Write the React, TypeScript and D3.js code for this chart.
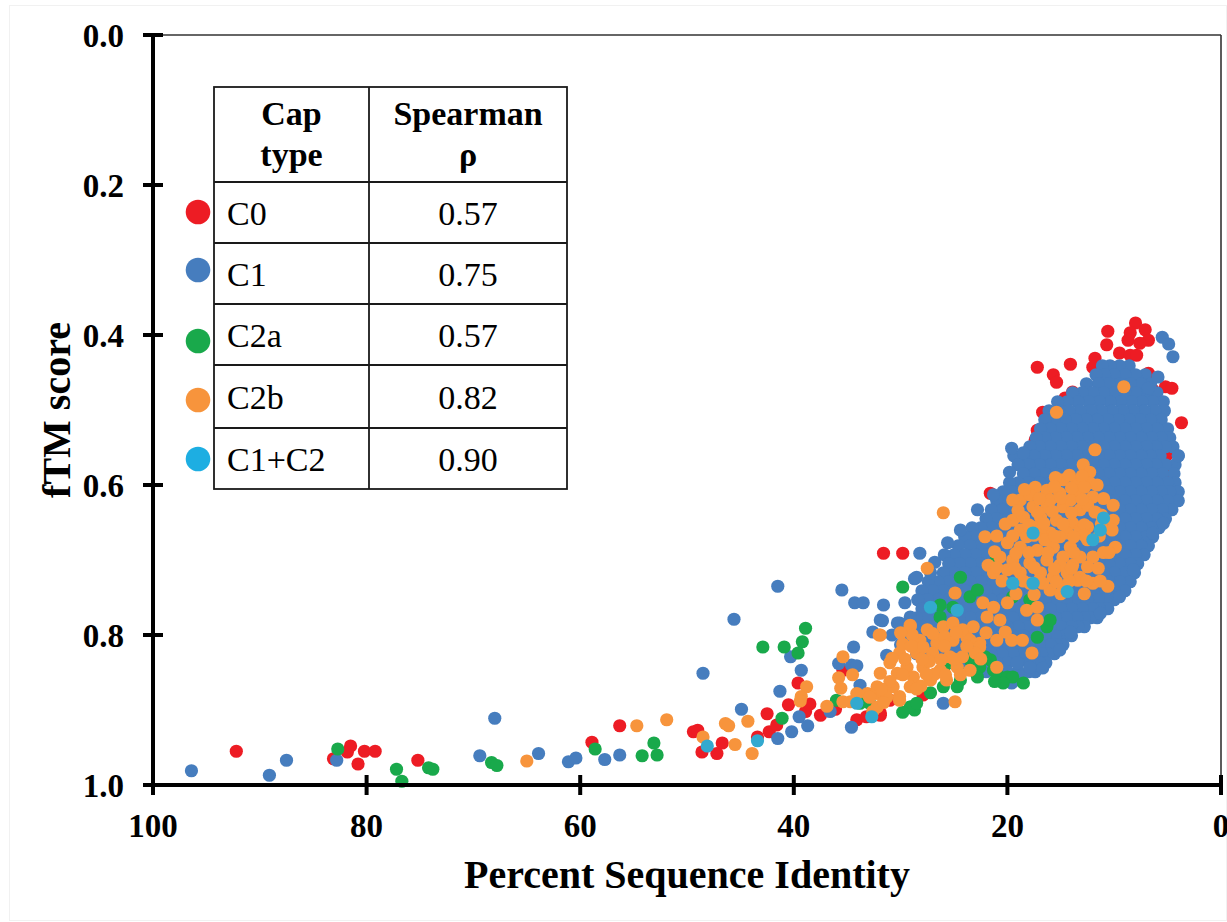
import React from "react";
import * as d3 from "d3";

// Axis ticks and the summary table
const xTicks = [100, 80, 60, 40, 20, 0];
const yTicks = [0, 0.2, 0.4, 0.6, 0.8, 1.0];
const capTypes = ["C0", "C1", "C2a", "C2b", "C1+C2"];
const spearmanRho = ["0.57", "0.75", "0.57", "0.82", "0.90"];

// Each point: [percent sequence identity, fTM score]
type Pt = [number, number];

const c0Points: Pt[] = [
  [92.2, 0.955], [83.1, 0.965], [81.8, 0.956], [81.5, 0.948], [80.8, 0.972], [80.2, 0.955], [79.2, 0.955], [75.2, 0.967],
  [58.9, 0.943], [56.3, 0.921], [49.4, 0.929], [49.0, 0.927], [48.6, 0.956], [47.2, 0.958], [46.7, 0.944], [43.4, 0.936],
  [42.5, 0.905], [42.3, 0.929], [41.6, 0.92], [40.5, 0.893], [38.9, 0.902], [39.6, 0.864], [38.5, 0.892], [37.5, 0.907],
  [36.1, 0.899], [35.4, 0.847], [34.1, 0.913], [33.2, 0.909], [31.9, 0.907], [31.0, 0.887], [31.9, 0.904], [27.9, 0.88],
  [31.6, 0.691], [29.8, 0.691], [23.3, 0.703], [9.5, 0.717], [21.6, 0.611],
  [8.0, 0.384], [10.6, 0.395], [7.1, 0.393], [8.5, 0.397], [6.8, 0.407], [8.7, 0.407], [10.7, 0.413], [7.6, 0.411],
  [9.5, 0.424], [8.5, 0.427], [7.9, 0.427], [11.8, 0.431], [14.1, 0.439], [17.2, 0.443], [12.0, 0.443], [15.7, 0.453],
  [15.4, 0.463], [10.1, 0.443], [6.8, 0.451], [5.2, 0.469], [4.6, 0.471], [6.4, 0.473], [7.6, 0.476], [14.6, 0.484],
  [13.9, 0.476], [16.7, 0.503], [17.2, 0.527], [17.4, 0.54], [3.7, 0.517], [5.1, 0.56], [5.4, 0.584], [5.2, 0.603],
  [6.4, 0.616],
];

const c1Points: Pt[] = [
  [96.4, 0.981], [89.1, 0.987], [87.5, 0.967], [82.8, 0.967], [69.4, 0.961], [68.0, 0.911], [63.9, 0.958], [61.1, 0.969],
  [60.4, 0.964], [57.7, 0.966], [56.3, 0.96], [44.9, 0.899], [41.5, 0.938], [40.2, 0.929], [39.5, 0.909], [38.7, 0.921],
  [41.5, 0.735], [45.6, 0.779], [48.5, 0.851], [35.5, 0.74], [28.7, 0.725], [34.3, 0.757], [33.5, 0.757], [31.6, 0.76],
  [40.3, 0.829], [31.7, 0.781], [32.6, 0.796], [34.4, 0.816], [39.3, 0.847], [41.3, 0.875], [36.6, 0.902], [35.8, 0.838],
  [34.6, 0.84], [34.1, 0.841], [33.8, 0.867], [34.6, 0.923], [31.3, 0.827], [30.3, 0.784], [29.4, 0.803],
  [5.5, 0.403], [4.9, 0.412], [4.5, 0.429], [5.9, 0.456], [6.8, 0.471], [19.6, 0.551], [18.5, 0.557], [19.8, 0.583],
  [21.3, 0.613], [26.0, 0.891], [19.6, 0.864], [19.1, 0.837], [17.9, 0.843], [16.7, 0.844], [4.0, 0.561], [9.5, 0.749],
  [8.2, 0.713], [6.4, 0.664], [5.4, 0.651], [11.3, 0.771], [14.1, 0.796], [15.1, 0.82],
  [31.9, 0.78], [29.1, 0.776], [30.1, 0.784], [28.2, 0.691], [28.5, 0.723], [27.2, 0.717], [26.8, 0.703], [25.6, 0.677],
  [24.4, 0.66], [22.8, 0.633], [29.6, 0.757], [30.8, 0.8],
];

// Dense C1 cloud, listed by fTM level: [fTM, identities at that level]
const c1Cloud: [number, number[]][] = [
  [0.441, [8.6, 9.5, 10.4, 11.1]],
  [0.453, [7.1, 8.0, 9.0, 10.0, 10.9, 11.7]],
  [0.465, [6.6, 7.5, 8.5, 9.5, 10.5, 11.5, 12.6]],
  [0.477, [6.0, 7.0, 8.0, 9.0, 10.0, 11.0, 12.0, 13.0, 13.9]],
  [0.489, [5.4, 6.4, 7.4, 8.4, 9.4, 10.4, 11.4, 12.4, 13.4, 14.4, 15.3]],
  [0.501, [5.3, 6.2, 7.2, 8.2, 9.2, 10.2, 11.2, 12.2, 13.2, 14.2, 15.2, 16.1]],
  [0.513, [5.6, 6.6, 7.6, 8.6, 9.6, 10.6, 11.6, 12.6, 13.6, 14.6, 15.6, 16.5]],
  [0.525, [5.0, 6.0, 7.0, 8.0, 9.0, 10.0, 11.0, 12.0, 13.0, 14.0, 15.0, 16.0, 16.9]],
  [0.537, [4.8, 5.6, 6.5, 7.5, 8.5, 9.5, 10.5, 11.5, 12.5, 13.5, 14.5, 15.5, 16.5, 17.3]],
  [0.549, [4.5, 5.2, 6.1, 7.0, 8.0, 9.0, 10.0, 11.0, 12.0, 13.0, 14.0, 15.0, 16.0, 17.0, 17.9]],
  [0.561, [4.0, 5.7, 6.6, 7.5, 8.5, 9.5, 10.5, 11.5, 12.5, 13.5, 14.5, 15.5, 16.5, 17.5, 18.5, 19.4]],
  [0.573, [4.3, 5.2, 6.1, 7.0, 8.0, 9.0, 10.0, 11.0, 12.0, 13.0, 14.0, 15.0, 16.0, 17.0, 18.0, 19.0]],
  [0.585, [4.4, 5.5, 6.5, 7.5, 8.5, 9.5, 10.5, 11.5, 12.5, 13.5, 14.5, 15.5, 16.5, 17.5, 18.5]],
  [0.597, [4.3, 5.0, 6.0, 7.0, 8.0, 9.0, 10.0, 11.0, 12.0, 13.0, 14.0, 15.0, 16.0, 17.0, 18.0, 19.0, 19.8]],
  [0.609, [4.0, 4.8, 5.6, 6.5, 7.5, 8.5, 9.5, 10.5, 11.5, 12.5, 13.5, 14.5, 15.5, 16.5, 17.5, 18.5, 19.5, 20.4]],
  [0.621, [4.0, 5.0, 6.0, 7.0, 8.0, 9.0, 10.0, 11.0, 12.0, 13.0, 14.0, 15.0, 16.0, 17.0, 18.0, 19.0, 20.0, 21.0]],
  [0.633, [4.6, 5.5, 6.5, 7.5, 8.5, 9.5, 10.5, 11.5, 12.5, 13.5, 14.5, 15.5, 16.5, 17.5, 18.5, 19.5, 20.5, 21.5]],
  [0.645, [5.2, 6.0, 7.0, 8.0, 9.0, 10.0, 11.0, 12.0, 13.0, 14.0, 15.0, 16.0, 17.0, 18.0, 19.0, 20.0, 21.0, 22.0]],
  [0.657, [5.8, 6.5, 7.5, 8.5, 9.5, 10.5, 11.5, 12.5, 13.5, 14.5, 15.5, 16.5, 17.5, 18.5, 19.5, 20.5, 21.5, 22.5, 23.3]],
  [0.669, [6.4, 7.0, 8.0, 9.0, 10.0, 11.0, 12.0, 13.0, 14.0, 15.0, 16.0, 17.0, 18.0, 19.0, 20.0, 21.0, 22.0, 23.0, 24.0]],
  [0.681, [6.8, 7.5, 8.5, 9.5, 10.5, 11.5, 12.5, 13.5, 14.5, 15.5, 16.5, 17.5, 18.5, 19.5, 20.5, 21.5, 22.5, 23.5, 24.6]],
  [0.693, [7.2, 8.0, 9.0, 10.0, 11.0, 12.0, 13.0, 14.0, 15.0, 16.0, 17.0, 18.0, 19.0, 20.0, 21.0, 22.0, 23.0, 24.0, 25.0, 25.9]],
  [0.705, [7.8, 8.5, 9.5, 10.5, 11.5, 12.5, 13.5, 14.5, 15.5, 16.5, 17.5, 18.5, 19.5, 20.5, 21.5, 22.5, 23.5, 24.5, 25.5]],
  [0.717, [8.1, 9.0, 10.0, 11.0, 12.0, 13.0, 14.0, 15.0, 16.0, 17.0, 18.0, 19.0, 20.0, 21.0, 22.0, 23.0, 24.0, 25.0, 26.0]],
  [0.729, [8.5, 9.5, 10.5, 11.5, 12.5, 13.5, 14.5, 15.5, 16.5, 17.5, 18.5, 19.5, 20.5, 21.5, 22.5, 23.5, 24.5, 25.5, 26.5, 27.4]],
  [0.741, [9.0, 10.0, 11.0, 12.0, 13.0, 14.0, 15.0, 16.0, 17.0, 18.0, 19.0, 20.0, 21.0, 22.0, 23.0, 24.0, 25.0, 26.0, 27.0, 28.0]],
  [0.753, [10.0, 10.8, 11.5, 12.5, 13.5, 14.5, 15.5, 16.5, 17.5, 18.5, 19.5, 20.5, 21.5, 22.5, 23.5, 24.5, 25.5, 26.5, 27.5, 28.4]],
  [0.765, [10.6, 11.4, 12.0, 13.0, 14.0, 15.0, 16.0, 17.0, 18.0, 19.0, 20.0, 21.0, 22.0, 23.0, 24.0, 25.0, 26.0, 27.0, 28.0]],
  [0.777, [11.6, 12.2, 12.8, 13.5, 14.5, 15.5, 16.5, 17.5, 18.5, 19.5, 20.5, 21.5, 22.5, 23.5, 24.5, 25.5, 26.5, 27.5, 28.5]],
  [0.789, [12.8, 13.4, 14.0, 15.0, 16.0, 17.0, 18.0, 19.0, 20.0, 21.0, 22.0, 23.0, 24.0, 25.0, 26.0, 27.0, 28.0, 29.0]],
  [0.801, [14.0, 14.6, 15.5, 16.5, 17.5, 18.5, 19.5, 20.5, 21.5, 22.5, 23.5, 24.5, 25.5, 26.5, 27.5, 28.5, 29.5]],
  [0.813, [14.8, 15.4, 16.0, 17.0, 18.0, 19.0, 20.0, 21.0, 22.0, 23.0, 24.0, 25.0, 26.0, 27.0, 28.0, 29.0, 30.0]],
  [0.825, [15.6, 16.2, 16.8, 17.5, 18.5, 19.5, 20.5, 21.5, 22.5, 23.5, 24.5, 25.5, 26.5, 27.5, 28.5]],
  [0.837, [16.4, 17.0, 18.0, 19.0, 20.0, 21.0, 22.0, 23.0, 24.0, 25.0, 26.0]],
  [0.849, [17.4, 18.0, 19.0, 20.0, 21.0, 22.0, 23.0]],
  [0.861, [18.7, 19.5, 20.5]],
];

const c2aPoints: Pt[] = [
  [82.7, 0.952], [77.2, 0.979], [76.7, 0.995], [74.2, 0.977], [73.8, 0.979], [68.3, 0.97], [67.8, 0.974], [58.6, 0.952],
  [54.2, 0.961], [53.1, 0.944], [52.8, 0.96], [41.1, 0.911], [38.9, 0.791], [42.9, 0.816], [40.9, 0.816], [39.2, 0.809],
  [39.6, 0.824], [29.8, 0.736], [36.0, 0.887], [32.9, 0.891], [29.1, 0.896], [28.7, 0.9], [33.8, 0.891],
  [24.4, 0.723], [23.5, 0.749], [22.8, 0.74], [26.3, 0.76], [25.1, 0.763], [26.3, 0.776], [21.0, 0.696], [19.5, 0.749],
  [17.9, 0.753], [16.3, 0.789], [17.2, 0.803], [23.5, 0.833], [22.6, 0.843], [21.3, 0.847], [20.7, 0.856], [20.0, 0.856],
  [19.5, 0.856], [18.5, 0.864], [20.4, 0.864], [22.8, 0.856], [24.4, 0.86], [26.0, 0.869], [27.2, 0.877], [29.1, 0.896],
  [28.5, 0.891], [29.8, 0.903], [21.6, 0.833], [22.1, 0.829], [25.8, 0.84], [24.7, 0.869], [16.0, 0.78], [21.2, 0.862],
];

const c2bPoints: Pt[] = [
  [65.0, 0.968], [54.7, 0.921], [51.9, 0.913], [48.5, 0.936], [46.4, 0.918], [46.1, 0.921], [45.5, 0.946], [44.3, 0.915],
  [43.9, 0.958], [38.8, 0.869], [39.3, 0.882], [39.4, 0.888], [36.9, 0.895], [35.8, 0.857], [35.6, 0.871], [35.4, 0.829],
  [34.5, 0.853], [34.1, 0.878], [34.7, 0.889], [35.4, 0.889], [32.6, 0.902], [33.1, 0.878], [32.2, 0.878], [31.7, 0.876],
  [32.0, 0.8], [30.1, 0.882], [29.1, 0.787],
  [9.1, 0.469], [15.4, 0.503], [26.0, 0.637], [27.5, 0.711], [31.9, 0.8],
  // upper mass
  [11.8, 0.553], [12.9, 0.573], [12.3, 0.583], [17.4, 0.603], [16.3, 0.607], [14.8, 0.593], [13.5, 0.596], [12.3, 0.597],
  [11.6, 0.6], [15.1, 0.611], [13.5, 0.611], [12.0, 0.616], [10.1, 0.627], [18.8, 0.62], [17.6, 0.629], [16.3, 0.629],
  [14.8, 0.629], [13.2, 0.633], [19.5, 0.647], [18.5, 0.643], [16.9, 0.643], [15.4, 0.647], [13.9, 0.651], [12.5, 0.656],
  [10.1, 0.647], [10.2, 0.66], [18.8, 0.66], [17.6, 0.656], [16.0, 0.664], [14.4, 0.664], [20.0, 0.677], [18.8, 0.683],
  [17.2, 0.687], [15.7, 0.683], [14.1, 0.683], [12.5, 0.673], [9.9, 0.683], [22.1, 0.669], [21.8, 0.707], [20.7, 0.696],
  [19.5, 0.7], [17.9, 0.704], [16.3, 0.7], [14.8, 0.696], [13.2, 0.696], [12.0, 0.696], [21.3, 0.717], [20.0, 0.713],
  [18.8, 0.717], [16.9, 0.717], [15.7, 0.723], [14.4, 0.717], [13.2, 0.723], [12.0, 0.731], [10.6, 0.735], [16.0, 0.74],
  [16.7, 0.731], [13.4, 0.727],
  [17.9, 0.613], [16.0, 0.62], [14.1, 0.62], [12.5, 0.627], [16.9, 0.66], [15.1, 0.669], [13.2, 0.66], [18.2, 0.669],
  [16.5, 0.673], [15.1, 0.707], [13.9, 0.707], [12.5, 0.709], [17.9, 0.731], [14.8, 0.736], [11.2, 0.64], [11.0, 0.69],
  [13.0, 0.588], [14.2, 0.587], [15.5, 0.59], [12.8, 0.603], [14.0, 0.604], [15.6, 0.602], [18.4, 0.606],
  [11.0, 0.618], [13.0, 0.619], [15.0, 0.617], [17.0, 0.618], [19.5, 0.62], [11.8, 0.636], [14.0, 0.637], [15.8, 0.635],
  [17.2, 0.636], [19.0, 0.634], [11.2, 0.652], [12.8, 0.653], [14.8, 0.652], [16.6, 0.651], [18.0, 0.653], [20.2, 0.652],
  [11.4, 0.668], [12.8, 0.667], [13.8, 0.669], [15.6, 0.668], [17.5, 0.667], [19.5, 0.668], [21.0, 0.668],
  [10.5, 0.69], [13.8, 0.69], [16.2, 0.69], [18.0, 0.69], [19.2, 0.691], [21.2, 0.689], [11.5, 0.711], [14.0, 0.711],
  [15.6, 0.712], [17.5, 0.71], [19.3, 0.711], [21.0, 0.71], [11.3, 0.728], [12.6, 0.728], [14.2, 0.728], [15.4, 0.729],
  [17.0, 0.727], [18.5, 0.728], [20.5, 0.728], [12.8, 0.745], [15.0, 0.745], [17.5, 0.746], [19.2, 0.745],
  // middle
  [22.3, 0.757], [21.3, 0.763], [20.0, 0.757], [21.9, 0.776], [20.7, 0.78], [18.2, 0.767], [17.2, 0.763], [17.2, 0.78],
  [24.9, 0.744], [20.2, 0.796], [19.6, 0.807], [18.6, 0.807], [17.7, 0.824], [21.0, 0.807], [21.0, 0.843], [22.6, 0.811],
  [23.8, 0.803],
  // lower mass
  [29.1, 0.789], [27.5, 0.793], [26.0, 0.789], [25.1, 0.784], [24.2, 0.793], [23.2, 0.789], [28.2, 0.807], [26.6, 0.811],
  [25.1, 0.807], [23.5, 0.807], [22.6, 0.816], [30.1, 0.824], [28.5, 0.824], [27.0, 0.824], [25.4, 0.829], [24.2, 0.829],
  [31.0, 0.837], [29.4, 0.843], [27.9, 0.843], [26.3, 0.847], [24.7, 0.843], [23.5, 0.847], [31.9, 0.851], [30.3, 0.851],
  [28.8, 0.856], [27.2, 0.86], [25.7, 0.86], [32.2, 0.869], [30.7, 0.869], [29.1, 0.869], [32.9, 0.883], [31.3, 0.883],
  [32.2, 0.896], [30.1, 0.887], [24.9, 0.889], [28.9, 0.8], [27.3, 0.835], [25.9, 0.802], [29.8, 0.812], [26.8, 0.852],
  [23.0, 0.824], [28.1, 0.868], [31.0, 0.862],
  [22.0, 0.797], [24.8, 0.797], [27.0, 0.798], [30.0, 0.797], [23.8, 0.815], [25.9, 0.815], [27.9, 0.816], [29.0, 0.815],
  [22.5, 0.832], [25.0, 0.832], [26.2, 0.833], [28.0, 0.832], [29.6, 0.832], [30.8, 0.831], [24.4, 0.853], [25.8, 0.853],
  [27.6, 0.852], [29.8, 0.853], [28.5, 0.872], [31.8, 0.872], [31.6, 0.89],
];

const c12Points: Pt[] = [
  [11.0, 0.644], [11.3, 0.66], [12.0, 0.673], [17.6, 0.664], [19.5, 0.731], [17.6, 0.731], [14.4, 0.742], [27.2, 0.763],
  [24.7, 0.767], [34.1, 0.891], [32.7, 0.909], [48.1, 0.948], [43.4, 0.941],
];

const RED = "#ED1C24";
const BLUE = "#467DBE";
const GREEN = "#19A94B";
const ORANGE = "#F7943C";
const CYAN_DOT = "#33A9CF";
const CYAN_KEY = "#1DAEE2";
const FONT = "'Liberation Serif', 'Times New Roman', serif";
const DOT_R = 6.6;

const M = { left: 153, right: 1221, top: 35, bottom: 785 };

export default function App() {
  const x = d3.scaleLinear().domain([100, 0]).range([M.left, M.right]);
  const y = d3.scaleLinear().domain([0, 1]).range([M.top, M.bottom]);
  const fmtY = d3.format(".1f");

  const c1All: Pt[] = [
    ...c1Cloud.flatMap(([f, ids]) => ids.map((id) => [id, f] as Pt)),
    ...c1Points,
  ];

  const layers = [
    { key: "c0", pts: c0Points, color: RED },
    { key: "c1", pts: c1All, color: BLUE },
    { key: "c2a", pts: c2aPoints, color: GREEN },
    { key: "c2b", pts: c2bPoints, color: ORANGE },
    { key: "c12", pts: c12Points, color: CYAN_DOT },
  ];

  // summary table geometry
  const tX = [214, 369, 567];
  const tY = [87, 182, 243, 304, 365, 428, 489];
  const keyDotY = [212, 270, 341, 400, 459];
  const keyColors = [RED, BLUE, GREEN, ORANGE, CYAN_KEY];

  return (
    <svg
      width={1227}
      height={922}
      style={{ position: "absolute", left: 0, top: 0, background: "#fff" }}
      fontFamily={FONT}
    >
      <rect x={9.5} y={5.5} width={1217} height={915} fill="none" stroke="#f1f1f1" />

      {/* frame */}
      <line x1={M.left} x2={M.right} y1={M.top} y2={M.top} stroke="#333" strokeWidth={1.6} />
      <line x1={M.right} x2={M.right} y1={M.top} y2={M.bottom} stroke="#333" strokeWidth={1.6} />

      {/* points */}
      {layers.map((l) => (
        <g key={l.key} fill={l.color}>
          {l.pts.map((p, i) => (
            <circle key={i} cx={x(p[0])} cy={y(p[1])} r={DOT_R} />
          ))}
        </g>
      ))}

      {/* y axis */}
      <line x1={M.left} x2={M.left} y1={M.top} y2={M.bottom + 10} stroke="#000" strokeWidth={4} />
      {yTicks.map((t) => (
        <g key={t}>
          <line x1={M.left - 10} x2={M.left + 10} y1={y(t)} y2={y(t)} stroke="#000" strokeWidth={4} />
          <text x={124} y={y(t) + 11.5} textAnchor="end" fontSize={33} fontWeight="bold">
            {fmtY(t)}
          </text>
        </g>
      ))}

      {/* x axis */}
      <line x1={M.left - 10} x2={M.right + 2} y1={M.bottom} y2={M.bottom} stroke="#000" strokeWidth={4} />
      {xTicks.map((t) => (
        <g key={t}>
          <line x1={x(t)} x2={x(t)} y1={M.bottom - 10} y2={M.bottom + 10} stroke="#000" strokeWidth={4} />
          <text x={x(t)} y={M.bottom + 52} textAnchor="middle" fontSize={33} fontWeight="bold">
            {t}
          </text>
        </g>
      ))}

      <text x={(M.left + M.right) / 2} y={888} textAnchor="middle" fontSize={40} fontWeight="bold">
        Percent Sequence Identity
      </text>
      <text
        transform={`translate(70, ${(M.top + M.bottom) / 2}) rotate(-90)`}
        textAnchor="middle"
        fontSize={40}
        fontWeight="bold"
      >
        fTM score
      </text>

      {/* summary table */}
      <g>
        <rect x={tX[0]} y={tY[0]} width={tX[2] - tX[0]} height={tY[6] - tY[0]} fill="#fff" stroke="#1a1a1a" strokeWidth={1.8} />
        <line x1={tX[1]} x2={tX[1]} y1={tY[0]} y2={tY[6]} stroke="#1a1a1a" strokeWidth={1.8} />
        {tY.slice(1, 6).map((ty) => (
          <line key={ty} x1={tX[0]} x2={tX[2]} y1={ty} y2={ty} stroke="#1a1a1a" strokeWidth={1.8} />
        ))}
        <text x={(tX[0] + tX[1]) / 2} y={125} textAnchor="middle" fontSize={34} fontWeight="bold">Cap</text>
        <text x={(tX[0] + tX[1]) / 2} y={166} textAnchor="middle" fontSize={34} fontWeight="bold">type</text>
        <text x={(tX[1] + tX[2]) / 2} y={125} textAnchor="middle" fontSize={34} fontWeight="bold">Spearman</text>
        <text x={(tX[1] + tX[2]) / 2} y={166} textAnchor="middle" fontSize={34} fontWeight="bold">ρ</text>
        {capTypes.map((c, i) => {
          const cy = (tY[i + 1] + tY[i + 2]) / 2;
          return (
            <g key={c}>
              <circle cx={198} cy={keyDotY[i]} r={12.3} fill={keyColors[i]} />
              <text x={227} y={cy + 12} fontSize={34}>{c}</text>
              <text x={(tX[1] + tX[2]) / 2} y={cy + 12} textAnchor="middle" fontSize={34}>
                {spearmanRho[i]}
              </text>
            </g>
          );
        })}
      </g>
    </svg>
  );
}
